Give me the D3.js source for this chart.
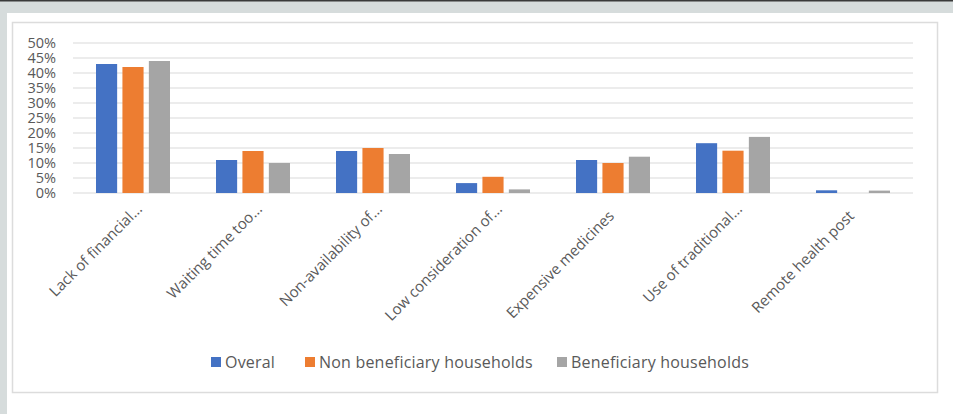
<!DOCTYPE html>
<html lang="en">
  <head>
    <meta charset="utf-8" />
    <title>Barriers to health care</title>
    <style>
      body { margin: 0; background: #fff; }
      text { font-family: "Open Sans", "DejaVu Sans", sans-serif; fill: #595959; }
    </style>
  </head>
  <body>
    <div id="vis"></div>
    <script src="https://cdn.jsdelivr.net/npm/d3@7"></script>
    <script>
      const categories = [
        "Lack of financial...",
        "Waiting time too...",
        "Non-availability of...",
        "Low consideration of...",
        "Expensive medicines",
        "Use of traditional...",
        "Remote health post"
      ];
      const seriesNames = ["Overal", "Non beneficiary households", "Beneficiary households"];
      const overal = [0.43, 0.11, 0.14, 0.033, 0.11, 0.166, 0.009];
      const nonBeneficiary = [0.42, 0.14, 0.15, 0.054, 0.10, 0.141, 0];
      const beneficiary = [0.44, 0.10, 0.13, 0.012, 0.121, 0.187, 0.008];
      const yTicks = [0, 0.05, 0.1, 0.15, 0.2, 0.25, 0.3, 0.35, 0.4, 0.45, 0.5];
      const colors = ["#4472c4", "#ed7d31", "#a5a5a5"];

      const W = 953, H = 414;
      const svg = d3.select("#vis").append("svg").attr("width", W).attr("height", H);

      // page frame
      svg.append("rect").attr("width", W).attr("height", H).attr("fill", "#d6dcdc");
      svg.append("rect").attr("width", W).attr("height", 1.5).attr("fill", "#3a3a3a");
      svg.append("rect").attr("x", 7).attr("y", 13).attr("width", W - 7).attr("height", H - 13).attr("fill", "#fff");
      svg.append("rect").attr("x", 12.5).attr("y", 22.5).attr("width", 925).attr("height", 370)
        .attr("fill", "none").attr("stroke", "#dcdcdc").attr("stroke-width", 1.5);

      const x0 = d3.scaleBand().domain(categories).range([73, 913]);
      const x1 = d3.scaleBand().domain(seriesNames).range([23, 97]).paddingInner(0.2);
      const y = d3.scaleLinear().domain([0, 0.5]).range([193, 43]);

      svg.append("g").selectAll("line").data(yTicks).join("line")
        .attr("x1", 73).attr("x2", 913)
        .attr("y1", d => y(d)).attr("y2", d => y(d))
        .attr("stroke", "#d9d9d9").attr("stroke-width", 1);

      svg.append("g").selectAll("text").data(yTicks).join("text")
        .attr("x", 56).attr("y", d => y(d)).attr("dy", "0.36em")
        .attr("text-anchor", "end").attr("font-size", 14.5).attr("letter-spacing", 0)
        .text(d3.format(".0%"));

      const series = [overal, nonBeneficiary, beneficiary];
      series.forEach((vals, si) => {
        svg.append("g").selectAll("rect").data(vals).join("rect")
          .attr("x", (d, i) => x0(categories[i]) + x1(seriesNames[si]))
          .attr("width", x1.bandwidth())
          .attr("y", d => y(d))
          .attr("height", d => y(0) - y(d))
          .attr("fill", colors[si]);
      });

      // truncated labels sit a little further right / higher, as in the original
      svg.append("g").selectAll("text").data(categories).join("text")
        .attr("transform", d => {
          const cut = d.endsWith("...");
          const cx = x0(d) + x0.bandwidth() / 2 + (cut ? 10 : 2);
          return `translate(${cx},${cut ? 210 : 217}) rotate(-45)`;
        })
        .attr("text-anchor", "end").attr("font-size", 15).attr("letter-spacing", 0)
        .text(d => d);

      const legendX = [211, 305, 557];
      const legend = svg.append("g").selectAll("g").data(seriesNames).join("g")
        .attr("transform", (d, i) => `translate(${legendX[i]},362)`);
      legend.append("rect").attr("x", 0).attr("y", -5).attr("width", 10).attr("height", 10)
        .attr("fill", (d, i) => colors[i]);
      legend.append("text").attr("x", 14).attr("y", 0).attr("dy", "0.35em")
        .attr("font-size", 16).attr("letter-spacing", 0.2).text(d => d);
    </script>
  </body>
</html>
